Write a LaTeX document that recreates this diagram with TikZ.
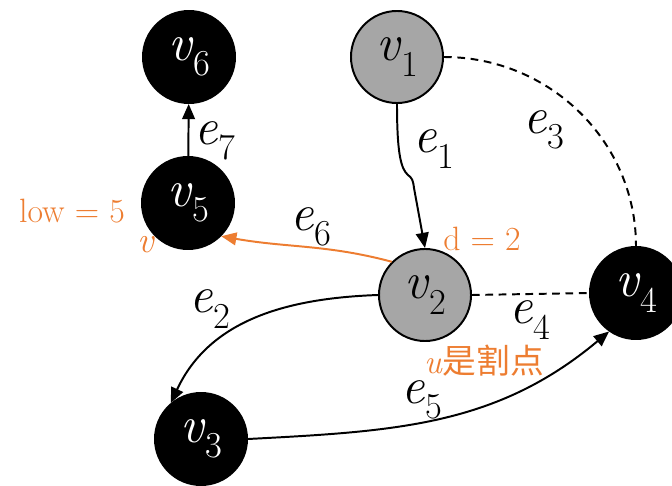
\documentclass[tikz,border=0pt]{standalone}
\usepackage{fontspec}
\newfontfamily\cjk{Noto Sans CJK SC}
\usetikzlibrary{arrows.meta}
\definecolor{accent1}{HTML}{ED7D31}
\definecolor{accent2}{HTML}{A6A6A6}
\newcommand{\vx}[1]{\textit{v}\raisebox{-0.3em}{\fontsize{26}{26}\selectfont #1}}
\newcommand{\ex}[1]{\textit{e}\raisebox{-0.3em}{\fontsize{26}{26}\selectfont #1}}

\begin{document}
\begin{tikzpicture}[x=0.025cm, y=-0.025cm,
  blk/.style={circle, fill=black, draw=black, text=white, line width=1.4pt, minimum size=2.3cm, inner sep=0pt, font=\fontsize{37}{37}\selectfont},
  gry/.style={blk, fill=accent2, text=black},
  elab/.style={font=\fontsize{37}{37}\selectfont, inner sep=0pt},
  olab/.style={font=\fontsize{24}{24}\selectfont, text=accent1, inner sep=0pt},
  arc/.style={line width=1.4pt, -{Triangle[length=3.8mm,width=3.2mm]}},
  dsh/.style={line width=1.4pt, dash pattern=on 5.5pt off 4pt}]
\useasboundingbox (0,0) rectangle (672,486);
% vertices
\node[blk] (v6) at (189,57) {\vx{6}};
\node[gry] (v1) at (397,57) {\vx{1}};
\node[blk] (v5) at (188,203) {\vx{5}};
\node[gry] (v2) at (425,295) {\vx{2}};
\node[blk] (v4) at (636,293) {\vx{4}};
\node[blk] (v3) at (201,439) {\vx{3}};
% edges
\draw[arc] (v5) -- (v6);
\coordinate (k1) at (408,175);
\draw[arc] (v1.south) .. controls +(0,50) and (401,169) .. (k1) .. controls (412,178) and (413,180) .. (414,188) -- (v2.north);
\draw[dsh] (v1.east) to[out=0, in=90] (v4.north);
\draw[dsh] (v2.east) -- (v4.west);
\draw[arc, accent1] (v2.135) to[out=165, in=-10] (v5.-45);
\draw[arc] (v2.west) to[out=182, in=65] (v3.130);
\draw[arc] (v3.east) to[out=3, in=220] (v4.235);
% edge labels
\node[elab] (l7) at (215,141) {\ex{7}};
\node[elab] (l1) at (434,149) {\ex{1}};
\node[elab] (l3) at (544,130) {\ex{3}};
\node[elab] (l4) at (530,320) {\ex{4}};
\node[elab] (l6) at (311,227) {\ex{6}};
\node[elab] (l2) at (210,309) {\ex{2}};
\node[elab] (l5) at (422,400) {\ex{5}};
% notes
\node[olab] (low) at (72,211) {low = 5};
\node[olab, font=\fontsize{26}{26}\selectfont] (vv) at (146,245) {\textit{v}};
\node[olab] (dd) at (482,239) {d = 2};
\node[olab] (cut) at (484,361) {\textit{u}{\cjk 是割点}};
\end{tikzpicture}
\end{document}
